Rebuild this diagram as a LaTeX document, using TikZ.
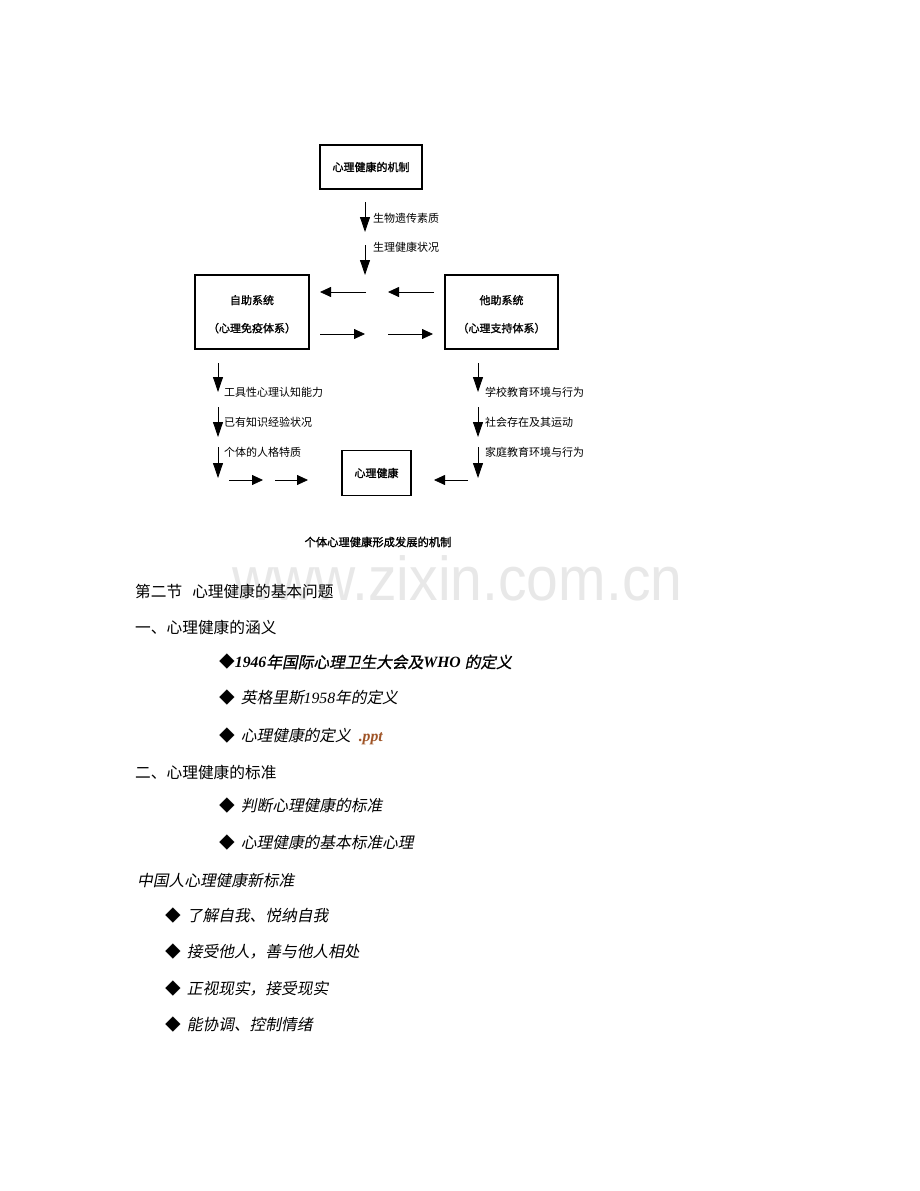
\documentclass[tikz,border=0pt]{standalone}
\usepackage{fontspec}
\usepackage{graphicx}
\usetikzlibrary{arrows.meta}
\newfontfamily\cjk{Noto Sans CJK SC}
\newfontfamily\cjkb{Noto Sans CJK SC}[FakeBold=1.4]
\newfontfamily\cjki{Noto Sans CJK SC}[FakeSlant=0.2]
\newfontfamily\cjkbi{Noto Sans CJK SC}[FakeSlant=0.2,FakeBold=0.8]
\newfontfamily\tms{Liberation Serif}
\newfontfamily\wmfont{Liberation Sans}
\newcommand{\lbi}[1]{{\tms\bfseries\itshape #1}}
\newcommand{\lit}[1]{{\tms\itshape #1}}
\definecolor{pptbrown}{RGB}{160,85,40}
\definecolor{wmgray}{RGB}{232,232,232}
\tikzset{
  box/.style={draw, line width=1.2pt, inner sep=0pt, font=\cjkb\fontsize{11}{13}\selectfont},
  varr/.style={line width=0.8pt, -{Triangle[length=15pt,width=10pt]}},
  harr/.style={line width=0.8pt, -{Triangle[length=11pt,width=10pt]}},
  lbl/.style={anchor=west, inner sep=0pt, font=\cjk\fontsize{11}{13}\selectfont},
  body/.style={anchor=west, inner sep=0pt, font=\cjk\fontsize{15.7}{18}\selectfont},
}
\begin{document}
\begin{tikzpicture}[x=1pt,y=-1pt]
\useasboundingbox (0,0) rectangle (920,1191);
\fill[white] (0,0) rectangle (920,1191);

% watermark
\node[anchor=base west, inner sep=0pt, text=wmgray, font=\wmfont\fontsize{62}{62}\selectfont] (wm) at (232,600) {\scalebox{0.92}[1]{www.zixin.com.cn}};

% boxes
\node[box, minimum width=102pt, minimum height=44pt] (mech) at (371,167) {心理健康的机制};
\node[box, minimum width=114pt, minimum height=74pt, align=center, font=\cjkb\fontsize{11}{28}\selectfont] (self) at (252,312) {\rule{0pt}{13.7pt}自助系统\\（心理免疫体系）};
\node[box, minimum width=113pt, minimum height=74pt, align=center, font=\cjkb\fontsize{11}{28}\selectfont] (other) at (501.5,312) {\rule{0pt}{13.7pt}他助系统\\（心理支持体系）};
\node[box, minimum width=69pt, minimum height=45pt] (health) at (376.5,473) {心理健康};

% top vertical arrows
\coordinate (v1s) at (365,202); \coordinate (v1e) at (365,232);
\coordinate (v2s) at (365,245); \coordinate (v2e) at (365,275);
\draw[varr] (v1s) -- (v1e);
\draw[varr] (v2s) -- (v2e);
\node[lbl] (l1) at (373,218) {生物遗传素质};
\node[lbl] (l2) at (373,247) {生理健康状况};

% middle horizontal arrows
\coordinate (h1s) at (366,292); \coordinate (h1e) at (320,292);
\coordinate (h2s) at (434,292); \coordinate (h2e) at (388,292);
\coordinate (h3s) at (320,334); \coordinate (h3e) at (365,334);
\coordinate (h4s) at (388,334); \coordinate (h4e) at (433,334);
\draw[harr] (h1s) -- (h1e);
\draw[harr] (h2s) -- (h2e);
\draw[harr] (h3s) -- (h3e);
\draw[harr] (h4s) -- (h4e);

% left vertical arrows
\coordinate (la1) at (218,363); \coordinate (la2) at (218,392);
\coordinate (lb1) at (218,407); \coordinate (lb2) at (218,437);
\coordinate (lc1) at (218,447); \coordinate (lc2) at (218,478);
\draw[varr] (la1) -- (la2);
\draw[varr] (lb1) -- (lb2);
\draw[varr] (lc1) -- (lc2);
\node[lbl] (ll1) at (224,392) {工具性心理认知能力};
\node[lbl] (ll2) at (224,422) {已有知识经验状况};
\node[lbl] (ll3) at (224,452) {个体的人格特质};

% right vertical arrows
\coordinate (ra1) at (478,363); \coordinate (ra2) at (478,392);
\coordinate (rb1) at (478,407); \coordinate (rb2) at (478,437);
\coordinate (rc1) at (478,447); \coordinate (rc2) at (478,478);
\draw[varr] (ra1) -- (ra2);
\draw[varr] (rb1) -- (rb2);
\draw[varr] (rc1) -- (rc2);
\node[lbl] (rl1) at (485,392) {学校教育环境与行为};
\node[lbl] (rl2) at (485,422) {社会存在及其运动};
\node[lbl] (rl3) at (485,452) {家庭教育环境与行为};

% bottom horizontal arrows
\coordinate (ba1) at (229,480); \coordinate (ba2) at (263,480);
\coordinate (bb1) at (275,480); \coordinate (bb2) at (308,480);
\coordinate (bc1) at (468,480); \coordinate (bc2) at (434,480);
\draw[harr] (ba1) -- (ba2);
\draw[harr] (bb1) -- (bb2);
\draw[harr] (bc1) -- (bc2);

% caption
\node[inner sep=0pt, font=\cjkb\fontsize{11.3}{13}\selectfont] (cap) at (378,542) {个体心理健康形成发展的机制};

% body text
\node[body] (t1) at (135,591) {第二节\hspace{10pt}心理健康的基本问题};
\node[body] (t2) at (135,627) {一、心理健康的涵义};
\node[body] (b1) at (219,662) {◆\lbi{1946}{\cjkbi 年国际心理卫生大会及}\lbi{WHO }{\cjkbi 的定义}};
\node[body] (b2) at (219,698) {◆\hspace{6pt}{\cjki 英格里斯}\lit{1958}{\cjki 年的定义}};
\node[body] (b3) at (219,736) {◆\hspace{6pt}{\cjki 心理健康的定义}\hspace{8pt}{\color{pptbrown}\lbi{.ppt}}};
\node[body] (t3) at (135,772) {二、心理健康的标准};
\node[body] (b4) at (219,806) {◆\hspace{6pt}{\cjki 判断心理健康的标准}};
\node[body] (b5) at (219,843) {◆\hspace{6pt}{\cjki 心理健康的基本标准心理}};
\node[body] (t4) at (137,880) {{\cjki 中国人心理健康新标准}};
\node[body] (c1) at (165,916) {◆\hspace{6pt}{\cjki 了解自我、悦纳自我}};
\node[body] (c2) at (165,952) {◆\hspace{6pt}{\cjki 接受他人，善与他人相处}};
\node[body] (c3) at (165,989) {◆\hspace{6pt}{\cjki 正视现实，接受现实}};
\node[body] (c4) at (165,1025) {◆\hspace{6pt}{\cjki 能协调、控制情绪}};
\end{tikzpicture}
\end{document}
